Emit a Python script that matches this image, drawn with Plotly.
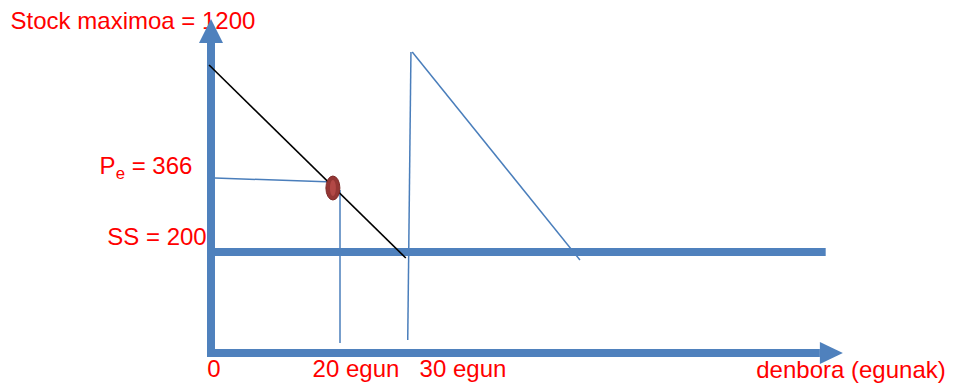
import plotly.graph_objects as go

# schematic diagram: x in days, y in diagram height units (not to scale)
ss_level = 101
max_level = 301

consumption_days = [-0.3, 30.2]
consumption_level = [288, 95]

pe_days = [0.6, 18.9]
pe_level = [175, 171]

reorder_point_day = 18.9
reorder_point_level = 165

lead_start_days = [20.0, 20.0]
lead_start_level = [163, 10]

refill_days = [30.5, 31.0]
refill_level = [13, max_level]

second_cycle_days = [31.2, 57.2]
second_cycle_level = [max_level, 93]

ss_days = [0.5, 95.3]

axis_x_days = [-0.6, 94.4]
axis_y_level = [-4, 310]

labels = ["Stock maximoa = 1200", "P<sub>e</sub> = 366", "SS = 200",
          "0", "20 egun", "30 egun", "denbora (egunak)"]

PX_PER_DAY = 6.45
X0 = 211   # page pixel column of day 0
Y0 = 353   # page pixel row of level 0
PAGE_PAD = 8  # browser body margin around the figure


def xd(px):
    return (px - X0) / PX_PER_DAY


def yd(py):
    return Y0 - py


BLUE = "#4A7EBB"
FILL = "#4F81BD"
RED = "#FF0000"
FONT = "Liberation Sans, Arial"

fig = go.Figure()

# label positions (pixel centres converted to diagram units)
label_x = [xd(133), xd(146), xd(157), xd(214), xd(356), xd(463), xd(851)]
label_y = [yd(23), yd(168), yd(239), yd(371), yd(371), yd(371), yd(372)]
fig.add_trace(go.Scatter(x=label_x, y=label_y, text=labels, mode="text",
                         textposition="middle center", cliponaxis=False,
                         textfont=dict(family=FONT, size=24, color=RED)))

# thin blue lines
fig.add_trace(go.Scatter(x=pe_days, y=pe_level, mode="lines",
                         line=dict(color=BLUE, width=1.5)))
fig.add_trace(go.Scatter(x=lead_start_days, y=lead_start_level, mode="lines",
                         line=dict(color=BLUE, width=1.5)))
fig.add_trace(go.Scatter(x=refill_days, y=refill_level, mode="lines",
                         line=dict(color=BLUE, width=1.5)))
fig.add_trace(go.Scatter(x=second_cycle_days, y=second_cycle_level, mode="lines",
                         line=dict(color=BLUE, width=1.5)))

# safety stock line
fig.add_trace(go.Scatter(x=ss_days, y=[ss_level, ss_level], mode="lines",
                         line=dict(color=FILL, width=8)))

# axes with arrowheads
fig.add_trace(go.Scatter(x=[0, 0], y=axis_y_level, mode="lines",
                         line=dict(color=FILL, width=8)))
fig.add_trace(go.Scatter(x=axis_x_days, y=[0, 0], mode="lines",
                         line=dict(color=FILL, width=8)))
hw = 12 / PX_PER_DAY
top = axis_y_level[1]
fig.add_trace(go.Scatter(x=[-hw, hw, 0, -hw], y=[top, top, top + 24, top],
                         mode="lines", fill="toself", fillcolor=FILL,
                         line=dict(color=FILL, width=0)))
ax_end = axis_x_days[1]
fig.add_trace(go.Scatter(x=[ax_end, ax_end, ax_end + 23 / PX_PER_DAY, ax_end],
                         y=[-11, 11, 0, -11],
                         mode="lines", fill="toself", fillcolor=FILL,
                         line=dict(color=FILL, width=0)))

# stock consumption line, drawn over the axis
fig.add_trace(go.Scatter(x=consumption_days, y=consumption_level, mode="lines",
                         line=dict(color="black", width=1.6)))

# reorder point dot (ellipse)
fig.add_shape(type="circle", xref="x", yref="y", xsizemode="pixel", ysizemode="pixel",
              xanchor=reorder_point_day, yanchor=reorder_point_level,
              x0=-7, x1=7, y0=-12, y1=12, fillcolor="#943634",
              line=dict(color="#7F2B29", width=1), layer="above")
fig.add_shape(type="circle", xref="x", yref="y", xsizemode="pixel", ysizemode="pixel",
              xanchor=reorder_point_day, yanchor=reorder_point_level,
              x0=-3, x1=3, y0=-8, y1=8, fillcolor="#B24846",
              line=dict(width=0), layer="above")

fig.update_layout(
    width=953 - PAGE_PAD, height=385 - PAGE_PAD,
    margin=dict(l=0, r=0, t=0, b=0),
    plot_bgcolor="white", paper_bgcolor="white",
    showlegend=False,
    xaxis=dict(range=[xd(PAGE_PAD), xd(953)], visible=False),
    yaxis=dict(range=[yd(385), yd(PAGE_PAD)], visible=False),
)

fig.write_html("out.html")
